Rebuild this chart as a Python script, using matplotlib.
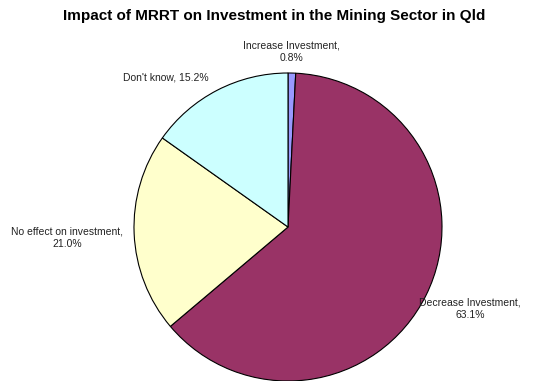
import matplotlib.pyplot as plt
import numpy as np

plt.rcParams['font.family'] = ['Liberation Sans', 'DejaVu Sans']

labels = ['Increase Investment', 'Decrease Investment', 'No effect on investment', "Don't know"]
values = [0.8, 63.1, 21.0, 15.2]
colors = ['#9999FF', '#993366', '#FFFFCC', '#CCFFFF']
# label text and where it sits (pixel centre, from top-left)
label_text = ['Increase Investment,\n0.8%', 'Decrease Investment,\n63.1%',
              'No effect on investment,\n21.0%', "Don't know, 15.2%"]
label_pos = [(291, 52), (470, 309), (67, 238), (166, 78)]

W, H = 538, 381
fig = plt.figure(figsize=(W / 100, H / 100), dpi=100)
cx, cy, r = 288, 227, 154
ax = fig.add_axes([(cx - r) / W, (H - cy - r) / H, 2 * r / W, 2 * r / H])
ax.pie(values, colors=colors, startangle=90, counterclock=False,
       wedgeprops=dict(edgecolor='black', linewidth=0.8))
ax.set_xlim(-1, 1)
ax.set_ylim(-1, 1)
ax.set_aspect('equal')
ax.axis('off')

for t, (px, py) in zip(label_text, label_pos):
    fig.text(px / W, 1 - py / H, t, ha='center', va='center', fontsize=7.5,
             color='#222222', linespacing=1.3)

fig.text(274 / W, 1 - 16 / H, 'Impact of MRRT on Investment in the Mining Sector in Qld',
         ha='center', va='center', fontsize=11, fontweight='bold')

fig.savefig('out.png', dpi=100)
